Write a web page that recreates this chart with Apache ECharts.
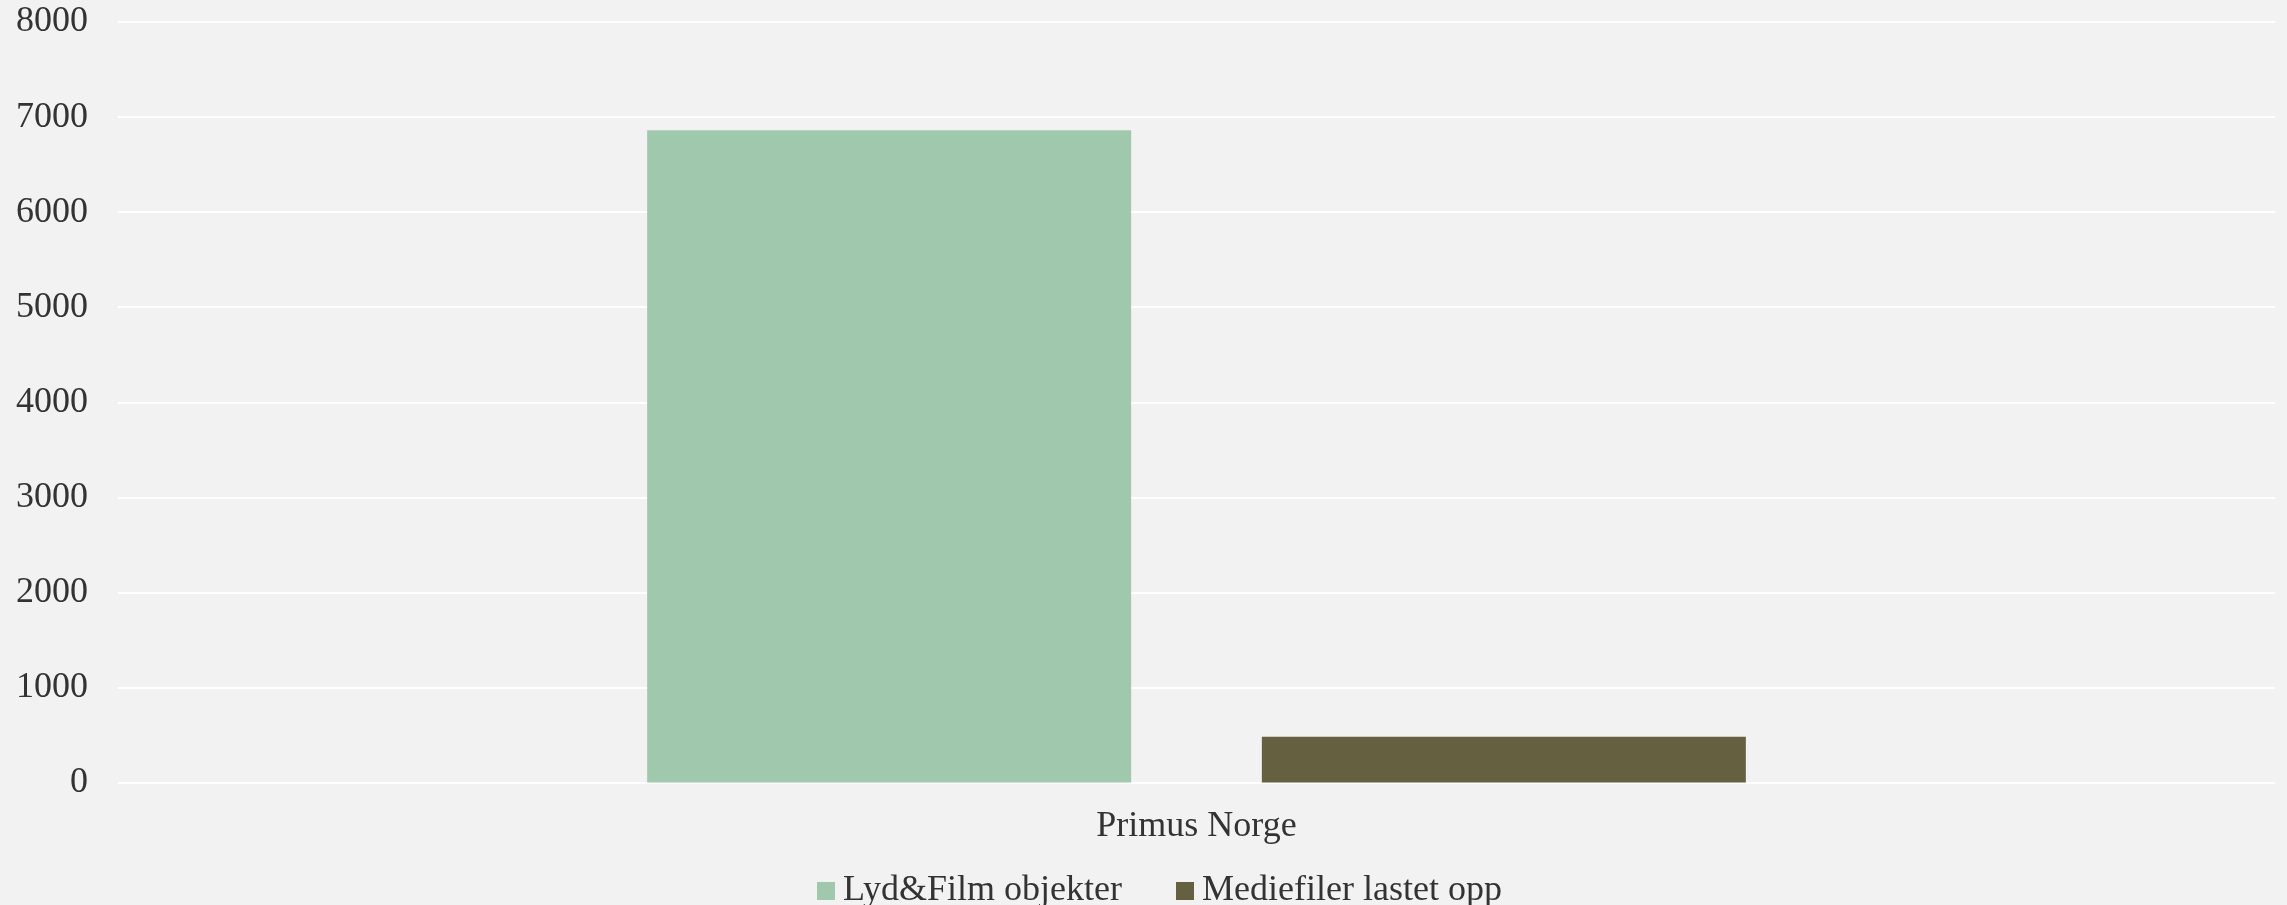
<!DOCTYPE html>
<html>
<head>
<meta charset="utf-8">
<script src="https://cdn.jsdelivr.net/npm/echarts@6/dist/echarts.min.js"></script>
<style>
html,body{margin:0;padding:0;background:#F2F2F2;}
#chart{width:2287px;height:905px;}
</style>
</head>
<body>
<div id="chart"></div>
<script>
const categories = ["Primus Norge"];
const seriesNames = ["Lyd&Film objekter", "Mediefiler lastet opp"];
const lydFilmObjekter = [6860];
const mediefilerLastetOpp = [480];
const yTicks = { min: 0, max: 8000, interval: 1000 };

const font = "'Liberation Serif', 'DejaVu Serif', serif";
const fs = 36;
const chart = echarts.init(document.getElementById('chart'));
chart.setOption({
  backgroundColor: '#F2F2F2',
  animation: false,
  textStyle: { fontFamily: font, color: '#333333' },
  grid: { left: 118, right: 12, top: 22, bottom: 122.5, containLabel: false },
  legend: {
    data: seriesNames,
    left: 812, top: 868,
    icon: 'rect', itemWidth: 18, itemHeight: 18, itemGap: 54,
    textStyle: { fontFamily: font, fontSize: fs, color: '#333333', padding: [0, 0, 0, 3] }
  },
  xAxis: {
    type: 'category',
    data: categories,
    axisLine: { show: false },
    axisTick: { show: false },
    axisLabel: { fontFamily: font, fontSize: fs, color: '#333333', margin: 26 }
  },
  yAxis: {
    type: 'value',
    min: yTicks.min, max: yTicks.max, interval: yTicks.interval,
    axisLine: { show: false },
    axisTick: { show: false },
    splitLine: { lineStyle: { color: '#FFFFFF', width: 2 } },
    axisLabel: { fontFamily: font, fontSize: fs, color: '#333333', margin: 30,
      formatter: function (v) { return String(v); } }
  },
  series: [
    { name: seriesNames[0], type: 'bar', data: lydFilmObjekter, barWidth: 484, barGap: '27%',
      itemStyle: { color: '#A0C8AD' } },
    { name: seriesNames[1], type: 'bar', data: mediefilerLastetOpp, barWidth: 484,
      itemStyle: { color: '#656040' } }
  ]
});
</script>
</body>
</html>
